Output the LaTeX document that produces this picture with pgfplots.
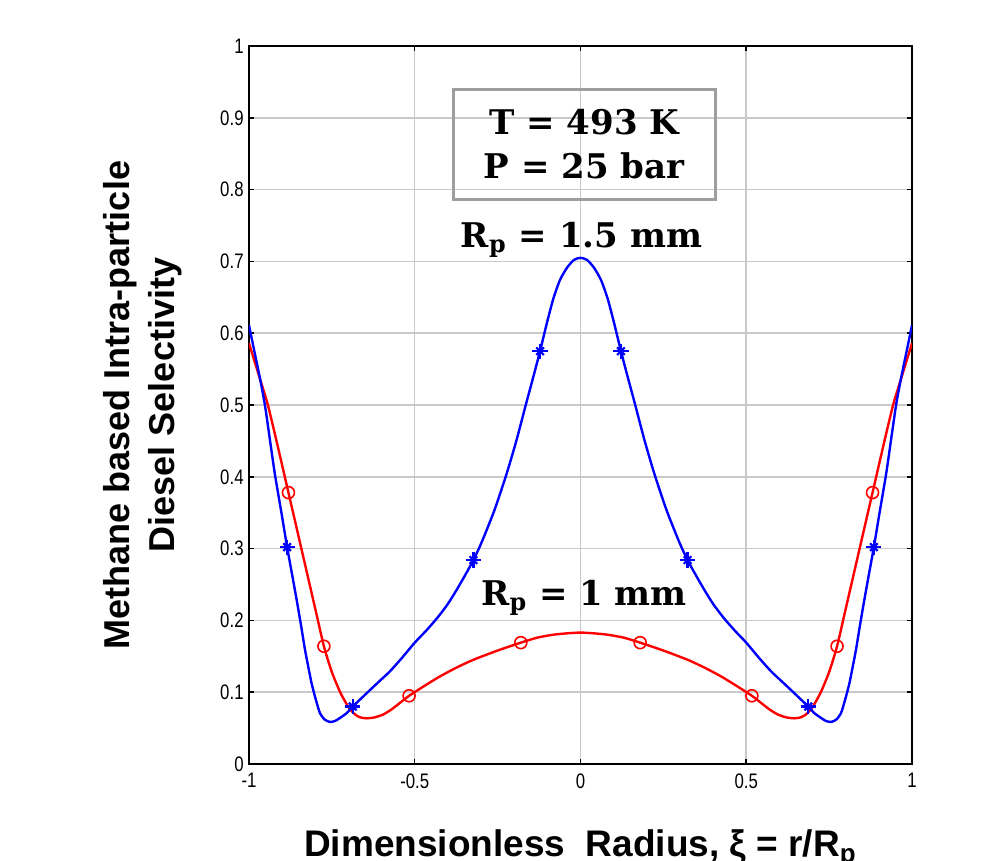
\documentclass[border=0pt]{standalone}
\usepackage{fontspec}
\setmainfont{Liberation Sans}
\newfontfamily\tickfont[FakeStretch=0.8]{Liberation Sans}
\newfontfamily\annfont{DejaVu Serif}
\usepackage{pgfplots}
\pgfplotsset{compat=1.18}
\usepackage{pgfplotstable}

\pgfplotstableread{
x y
-1.000 0.611
-0.983 0.573
-0.966 0.535
-0.952 0.500
-0.937 0.452
-0.922 0.404
-0.900 0.344
-0.885 0.302
-0.870 0.264
-0.856 0.228
-0.843 0.193
-0.831 0.159
-0.821 0.135
-0.811 0.112
-0.798 0.089
-0.786 0.071
-0.772 0.062
-0.756 0.0585
-0.740 0.060
-0.726 0.064
-0.705 0.071
-0.687 0.080
-0.660 0.092
-0.635 0.103
-0.605 0.116
-0.575 0.129
-0.540 0.147
-0.500 0.169
-0.465 0.186
-0.431 0.204
-0.400 0.223
-0.373 0.243
-0.348 0.263
-0.323 0.284
-0.298 0.309
-0.260 0.353
-0.223 0.404
-0.193 0.451
-0.164 0.502
-0.143 0.538
-0.122 0.575
-0.102 0.613
-0.082 0.648
-0.062 0.674
-0.041 0.691
-0.020 0.702
0.000 0.705
0.020 0.702
0.041 0.691
0.062 0.674
0.082 0.648
0.102 0.613
0.122 0.575
0.143 0.538
0.164 0.502
0.193 0.451
0.223 0.404
0.260 0.353
0.298 0.309
0.323 0.284
0.348 0.263
0.373 0.243
0.400 0.223
0.431 0.204
0.465 0.186
0.500 0.169
0.540 0.147
0.575 0.129
0.605 0.116
0.635 0.103
0.660 0.092
0.687 0.080
0.705 0.071
0.726 0.064
0.740 0.060
0.756 0.0585
0.772 0.062
0.786 0.071
0.798 0.089
0.811 0.112
0.821 0.135
0.831 0.159
0.843 0.193
0.856 0.228
0.870 0.264
0.885 0.302
0.900 0.344
0.922 0.404
0.937 0.452
0.952 0.500
0.966 0.535
0.983 0.573
1.000 0.611
}\bluedata

\pgfplotstableread{
x y
-1.000 0.586
-0.966 0.535
-0.943 0.500
-0.912 0.440
-0.881 0.378
-0.855 0.326
-0.828 0.272
-0.800 0.216
-0.774 0.164
-0.750 0.128
-0.726 0.101
-0.710 0.087
-0.695 0.076
-0.680 0.069
-0.665 0.065
-0.645 0.0636
-0.620 0.065
-0.595 0.069
-0.570 0.076
-0.545 0.085
-0.517 0.095
-0.470 0.109
-0.424 0.122
-0.375 0.134
-0.324 0.145
-0.250 0.158
-0.180 0.169
-0.130 0.176
-0.083 0.180
-0.040 0.182
0.000 0.183
0.040 0.182
0.083 0.180
0.130 0.176
0.180 0.169
0.250 0.158
0.324 0.145
0.375 0.134
0.424 0.122
0.470 0.109
0.517 0.095
0.545 0.085
0.570 0.076
0.595 0.069
0.620 0.065
0.645 0.0636
0.665 0.065
0.680 0.069
0.695 0.076
0.710 0.087
0.726 0.101
0.750 0.128
0.774 0.164
0.800 0.216
0.828 0.272
0.855 0.326
0.881 0.378
0.912 0.440
0.943 0.500
0.966 0.535
1.000 0.586
}\reddata

\pgfplotstableread{
x y
-0.881 0.378
-0.774 0.164
-0.517 0.095
-0.180 0.169
0.180 0.169
0.517 0.095
0.774 0.164
0.881 0.378
}\redmarks

\pgfplotstableread{
x y
-0.885 0.302
-0.687 0.080
-0.323 0.284
-0.122 0.575
0.122 0.575
0.323 0.284
0.687 0.080
0.885 0.302
}\bluemarks

\begin{document}
\begin{tikzpicture}
\useasboundingbox (-124.5pt,-48.5pt) rectangle (371.5pt,382pt);
\clip (-124.5pt,-48.5pt) rectangle (371.5pt,382pt);
\begin{axis}[
  at={(0,0)}, anchor=south west,
  scale only axis, width=331.5pt, height=359pt,
  xmin=-1, xmax=1, ymin=0, ymax=1,
  xtick={-1,-0.5,0,0.5,1}, xticklabels={-1,-0.5,0,0.5,1},
  ytick={0,0.1,0.2,0.3,0.4,0.5,0.6,0.7,0.8,0.9,1},
  yticklabels={0,0.1,0.2,0.3,0.4,0.5,0.6,0.7,0.8,0.9,1},
  grid=major,
  major grid style={draw=black!21, line width=0.75pt},
  axis line style={line width=1pt, black},
  tick style={black, line width=0.75pt},
  major tick length=2.5pt, tick align=inside,
  ticklabel style={font=\tickfont\fontsize{10.5}{12}\selectfont, inner sep=0pt},
  yticklabel shift=2.5pt,
  xticklabel shift=4.5pt,
  xlabel={Dimensionless~~Radius, ξ = r/R\textsubscript{p}},
  xlabel style={font=\bfseries\fontsize{18.5}{22}\selectfont, at={(axis description cs:0.5,0)}, anchor=base, yshift=-46.5pt, inner sep=0pt},
  ylabel={Methane based Intra-particle\\Diesel Selectivity},
  ylabel style={font=\bfseries\fontsize{18}{22.5}\selectfont, align=center, at={(axis description cs:-0.101,0.5)}, anchor=south, inner sep=0pt},
  clip=true,
]
\addplot[red, line width=1.2pt, smooth, tension=0.4] table[x=x,y=y] {\reddata};
\addplot[red, only marks, mark=o, mark size=3pt, mark options={line width=0.8pt}] table[x=x,y=y] {\redmarks};
\addplot[blue, line width=1.2pt, smooth, tension=0.4] table[x=x,y=y] {\bluedata};
\addplot[blue, only marks, mark=+, mark size=3.8pt, mark options={line width=1.1pt}] table[x=x,y=y] {\bluemarks};
\addplot[blue, only marks, mark=x, mark size=2.7pt, mark options={line width=1.1pt}] table[x=x,y=y] {\bluemarks};
\node[draw=black!38, line width=1.5pt, minimum width=131pt, minimum height=55pt, inner sep=0pt, align=center,
  font=\annfont\bfseries\fontsize{17}{22}\selectfont] at (axis cs:0.011,0.863) {T = 493 K\\P = 25 bar};
\node[anchor=base, inner sep=0pt, font=\annfont\bfseries\fontsize{17}{22}\selectfont] at (axis cs:0.003,0.720) {R\textsubscript{p} = 1.5 mm};
\node[anchor=base, inner sep=0pt, font=\annfont\bfseries\fontsize{17}{22}\selectfont] at (axis cs:0.011,0.221) {R\textsubscript{p} = 1 mm};
\end{axis}
\end{tikzpicture}
\end{document}
